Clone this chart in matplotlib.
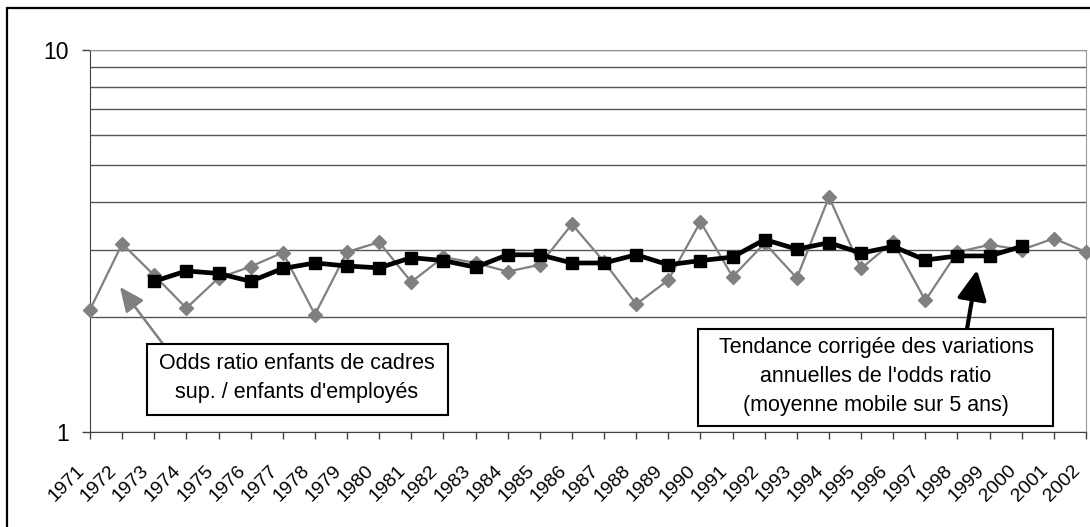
import matplotlib.pyplot as plt
import matplotlib.transforms as mtransforms
from matplotlib.patches import Rectangle
from matplotlib.ticker import FixedLocator, FixedFormatter, NullFormatter

years = list(range(1971, 2003))
odds_ratio = [2.09, 3.11, 2.57, 2.11, 2.53, 2.71, 2.95, 2.03, 2.96, 3.14,
              2.47, 2.87, 2.77, 2.63, 2.74, 3.50, 2.79, 2.16, 2.50, 3.55,
              2.55, 3.12, 2.53, 4.12, 2.68, 3.15, 2.21, 2.96, 3.09, 3.00,
              3.21, 2.96]
trend_years = list(range(1973, 2001))
trend = [2.48, 2.64, 2.60, 2.48, 2.68, 2.77, 2.72, 2.69, 2.86, 2.81,
         2.70, 2.91, 2.91, 2.77, 2.77, 2.91, 2.74, 2.81, 2.87, 3.19,
         3.01, 3.13, 2.94, 3.06, 2.82, 2.89, 2.89, 3.06]
ytick_vals = [1, 10]
ytick_labels = ['1', '10']
grid_vals = [2, 3, 4, 5, 6, 7, 8, 9]

label_raw = "Odds ratio enfants de cadres\nsup. / enfants d'employés"
label_trend = ("Tendance corrigée des variations\nannuelles de l'odds ratio\n"
               "(moyenne mobile sur 5 ans)")

plt.rcParams['font.family'] = ['Liberation Sans', 'DejaVu Sans']

W, H = 1090, 527


def fx(px):
    return px / W


def fy(py):
    return 1 - py / H


fig = plt.figure(figsize=(W / 100, H / 100), dpi=100)
ax = fig.add_axes([fx(90), fy(432), (1086 - 90) / W, (432 - 50) / H])

x = list(range(len(years)))
tx = [years.index(y) for y in trend_years]
ax.plot(x, odds_ratio, color='#808080', lw=1.6, marker='D', ms=7.5,
        mfc='#808080', mec='#808080', zorder=3, clip_on=False)
ax.plot(tx, trend, color='black', lw=3.4, marker='s', ms=9, zorder=4)

ax.set_yscale('log')
ax.set_ylim(1, 10)
ax.set_xlim(0, len(years) - 1)

ax.yaxis.set_major_locator(FixedLocator(ytick_vals))
ax.yaxis.set_major_formatter(FixedFormatter(ytick_labels))
ax.yaxis.set_minor_locator(FixedLocator(grid_vals))
ax.yaxis.set_minor_formatter(NullFormatter())
ax.tick_params(axis='y', which='major', length=6, width=1, pad=9,
               labelsize=16.5, color='#404040')
ax.tick_params(axis='y', which='minor', length=0)
ax.grid(axis='y', which='both', color='#555555', lw=1)

# x ticks: marks from the axis, labels placed by hand (rotated 45 deg)
ax.set_xticks(x)
ax.set_xticklabels([])
ax.tick_params(axis='x', length=5, width=1, color='#404040')
lab_trans = ax.get_xaxis_transform() + mtransforms.ScaledTranslation(
    -8 / 100, -36 / 100, fig.dpi_scale_trans)
for i, yr in zip(x, years):
    ax.text(i, 0, str(yr), transform=lab_trans, rotation=45,
            rotation_mode='anchor', ha='right', va='center', fontsize=14,
            clip_on=False)

for side in ['top', 'right']:
    ax.spines[side].set_color('#999999')
for side in ['left', 'bottom']:
    ax.spines[side].set_color('#404040')

# annotation boxes
fig.patches.append(Rectangle((fx(147), fy(415)), (448 - 147) / W, (415 - 344) / H,
                             transform=fig.transFigure, fc='white', ec='black',
                             lw=1.5, zorder=5))
fig.text(fx(297), fy(378), label_raw, ha='center', va='center', fontsize=15.5,
         linespacing=1.45, zorder=6)
fig.patches.append(Rectangle((fx(698), fy(426)), (1053 - 698) / W, (426 - 329) / H,
                             transform=fig.transFigure, fc='white', ec='black',
                             lw=1.5, zorder=5))
fig.text(fx(876), fy(377), label_trend, ha='center', va='center', fontsize=15.5,
         linespacing=1.5, zorder=6)

ax.annotate('', xy=(fx(120), fy(287)), xytext=(fx(163), fy(344)),
            xycoords='figure fraction',
            arrowprops=dict(arrowstyle='-|>,head_length=1.0,head_width=0.45',
                            color='#808080', lw=1.8, mutation_scale=15,
                            shrinkA=0, shrinkB=0))
ax.annotate('', xy=(fx(977), fy(270)), xytext=(fx(967), fy(329)),
            xycoords='figure fraction',
            arrowprops=dict(arrowstyle='-|>,head_length=1.0,head_width=0.5',
                            color='black', lw=3, mutation_scale=18,
                            shrinkA=0, shrinkB=0))

# outer frame
fig.patches.append(Rectangle((fx(7), -0.1), 1.2, fy(8) + 0.1,
                             transform=fig.transFigure, fill=False,
                             ec='black', lw=1.6))

fig.savefig('out.png', dpi=100)
